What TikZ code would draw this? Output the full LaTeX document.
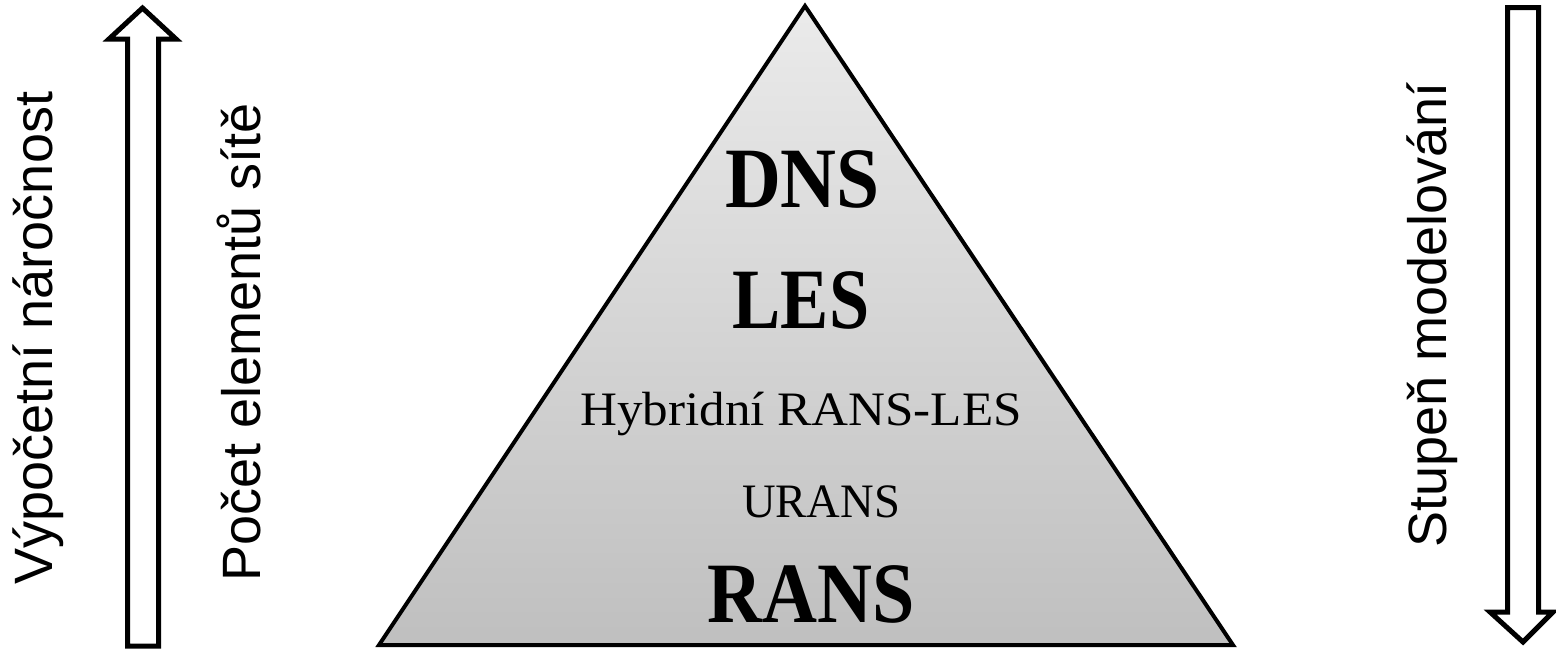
\documentclass[tikz,border=0pt]{standalone}
\usepackage{fontspec}
\setmainfont{Liberation Serif}
\newfontfamily\arialfont{Liberation Sans}
\definecolor{pyrtop}{gray}{0.92}
\definecolor{pyrbottom}{gray}{0.75}

\begin{document}
\begin{tikzpicture}[x=1pt, y=-1pt,
  blockarrow/.style={draw=black, line width=5pt, fill=white},
  sidelabel/.style={rotate=90, anchor=base, font=\arialfont\fontsize{54}{60}\selectfont},
  bigmodel/.style={anchor=base, font=\bfseries\fontsize{86}{96}\selectfont},
  smallmodel/.style={anchor=base, font=\fontsize{48}{56}\selectfont}]
\useasboundingbox (0,0) rectangle (1556,649);

% pyramid
\coordinate (apex) at (805,6);
\coordinate (baseL) at (379,645);
\coordinate (baseR) at (1233,645);
\shadedraw[top color=pyrtop, bottom color=pyrbottom, line width=4pt]
  (apex) -- (baseL) -- (baseR) -- cycle;

\node[bigmodel, xscale=0.9] (dns) at (802.5,207) {DNS};
\node[bigmodel, xscale=0.84] (les) at (801,328) {LES};
\node[smallmodel, xscale=1.065] (hybrid) at (801,425) {Hybridní RANS-LES};
\node[smallmodel, xscale=0.97] (urans) at (821,517) {URANS};
\node[bigmodel, xscale=0.885] (rans) at (811.5,622) {RANS};

% arrows
\draw[blockarrow] (127.5,646) -- (127.5,39) -- (109,39) -- (142.5,8)
  -- (176,39) -- (158.5,39) -- (158.5,646) -- cycle;
\draw[blockarrow] (1507.5,7.5) -- (1507.5,612) -- (1490,612) -- (1523,642)
  -- (1553,612) -- (1538.5,612) -- (1538.5,7.5) -- cycle;

\node[sidelabel] (cost) at (52,338) {Výpočetní náročnost};
\node[sidelabel] (cells) at (260,342.5) {Počet elementů sítě};
\node[sidelabel] (modelling) at (1446,315) {Stupeň modelování};
\end{tikzpicture}
\end{document}
